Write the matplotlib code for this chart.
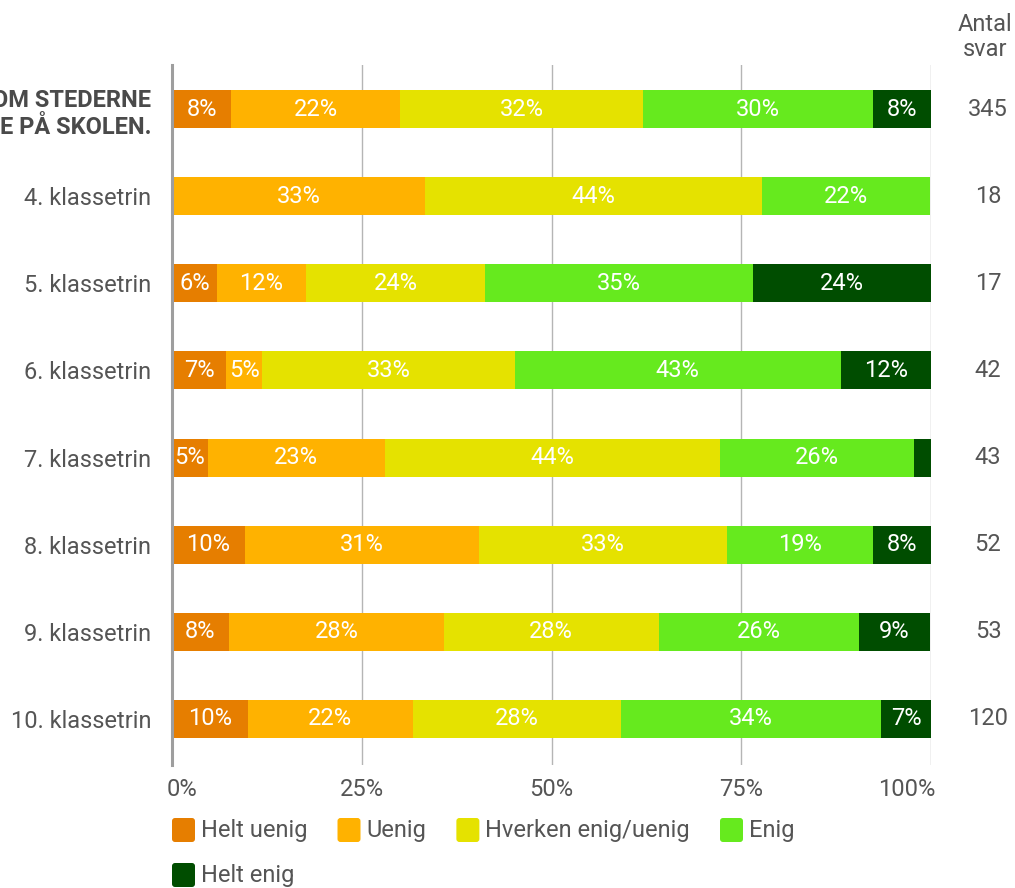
import matplotlib
matplotlib.use('Agg')
import matplotlib.pyplot as plt
from matplotlib.patches import FancyBboxPatch
from matplotlib.transforms import IdentityTransform, ScaledTranslation
import numpy as np

plt.rcParams['font.family'] = ['Roboto', 'DejaVu Sans']

# data (percent of answers per grade)
categories = ['OM STEDERNE\nE PÅ SKOLEN.', '4. klassetrin', '5. klassetrin', '6. klassetrin',
              '7. klassetrin', '8. klassetrin', '9. klassetrin', '10. klassetrin']
answers = [345, 18, 17, 42, 43, 52, 53, 120]
series = ['Helt uenig', 'Uenig', 'Hverken enig/uenig', 'Enig', 'Helt enig']
colors = ['#e67e00', '#ffb200', '#e5e200', '#66ea1e', '#004d00']

helt_uenig = [7.8, 0.0, 5.9, 7.1, 4.7, 9.6, 7.5, 10.0]
uenig = [22.3, 33.3, 11.8, 4.8, 23.3, 30.8, 28.3, 21.7]
hverken = [32.0, 44.4, 23.5, 33.3, 44.2, 32.7, 28.3, 27.5]
enig = [30.2, 22.2, 35.3, 42.9, 25.6, 19.2, 26.4, 34.2]
helt_enig = [7.8, 0.0, 23.5, 11.9, 2.3, 7.7, 9.4, 6.7]
values = [helt_uenig, uenig, hverken, enig, helt_enig]

W, H = 1015, 888
FS = 17
fig = plt.figure(figsize=(W / 100, H / 100), dpi=100)
ax = fig.add_axes([172 / W, 1 - 765 / H, 759 / W, 700 / H])

txt = '#555555'
y = np.arange(len(categories))
left = np.zeros(len(categories))
for vals, col, name in zip(values, colors, series):
    vals = np.array(vals)
    ax.barh(y, vals, left=left, height=0.436, color=col, label=name, zorder=3)
    for yi, (l, v) in enumerate(zip(left, vals)):
        if v >= 4:
            ax.text(l + v / 2, yi, f'{round(v)}%', ha='center', va='center',
                    color='white', fontsize=FS, zorder=4)
    left += vals

ax.set_xlim(0, 100)
ax.set_ylim(7.528, -0.505)
ax.set_xticks([0, 25, 50, 75, 100])
ax.set_xticklabels(['0%', '25%', '50%', '75%', '100%'], fontsize=FS, color=txt)
ax.set_yticks(y)
ax.set_yticklabels(categories, fontsize=FS, color=txt)
ylabs = ax.get_yticklabels()
ylabs[0].set_fontweight('bold')
ylabs[0].set_color('#4a4a4a')
ylabs[0].set_linespacing(1.25)
ax.tick_params(axis='both', length=0)
ax.tick_params(axis='y', pad=15)
ax.tick_params(axis='x', pad=9)
xl = ax.get_xticklabels()
xl[0].set_ha('left')
xl[0].set_transform(xl[0].get_transform() + ScaledTranslation(-5 / 100, 0, fig.dpi_scale_trans))
xl[-1].set_ha('right')
xl[-1].set_transform(xl[-1].get_transform() + ScaledTranslation(4 / 100, 0, fig.dpi_scale_trans))

ax.grid(axis='x', color='#b5b5b5', linewidth=1, zorder=0)
for s in ['top', 'right', 'bottom']:
    ax.spines[s].set_visible(False)
ax.spines['left'].set_color('#9e9e9e')
ax.spines['left'].set_linewidth(2.2)
ax.spines['left'].set_zorder(5)

# answer counts column
tr = ax.get_yaxis_transform()
xa = (988 - 172) / 759
for yi, n in enumerate(answers):
    ax.text(xa, yi, str(n), transform=tr, ha='center', va='center',
            fontsize=FS, color=txt, clip_on=False)
fig.text(985 / W, 1 - 37 / H, 'Antal\nsvar', ha='center', va='center',
         fontsize=FS, color=txt, linespacing=1.15)

# legend, flowed in pixel coords
ident = IdentityTransform()
renderer = fig.canvas.get_renderer()
x0, xmax = 172, 931
row_y = [830, 875]
x, row = x0, 0
for name, col in zip(series, colors):
    t = fig.text(0, 0, name, fontsize=FS, color=txt, va='center', ha='left', transform=ident)
    tw = t.get_window_extent(renderer).width
    if x + 30 + tw > xmax:
        row += 1
        x = x0
    yc = H - row_y[row]
    box = FancyBboxPatch((x, yc - 12), 23, 24, boxstyle='round,pad=0,rounding_size=3',
                         facecolor=col, edgecolor='none', transform=ident)
    fig.patches.append(box)
    t.set_position((x + 29, yc))
    x += 29 + tw + 30

fig.savefig('out.png', dpi=100)
